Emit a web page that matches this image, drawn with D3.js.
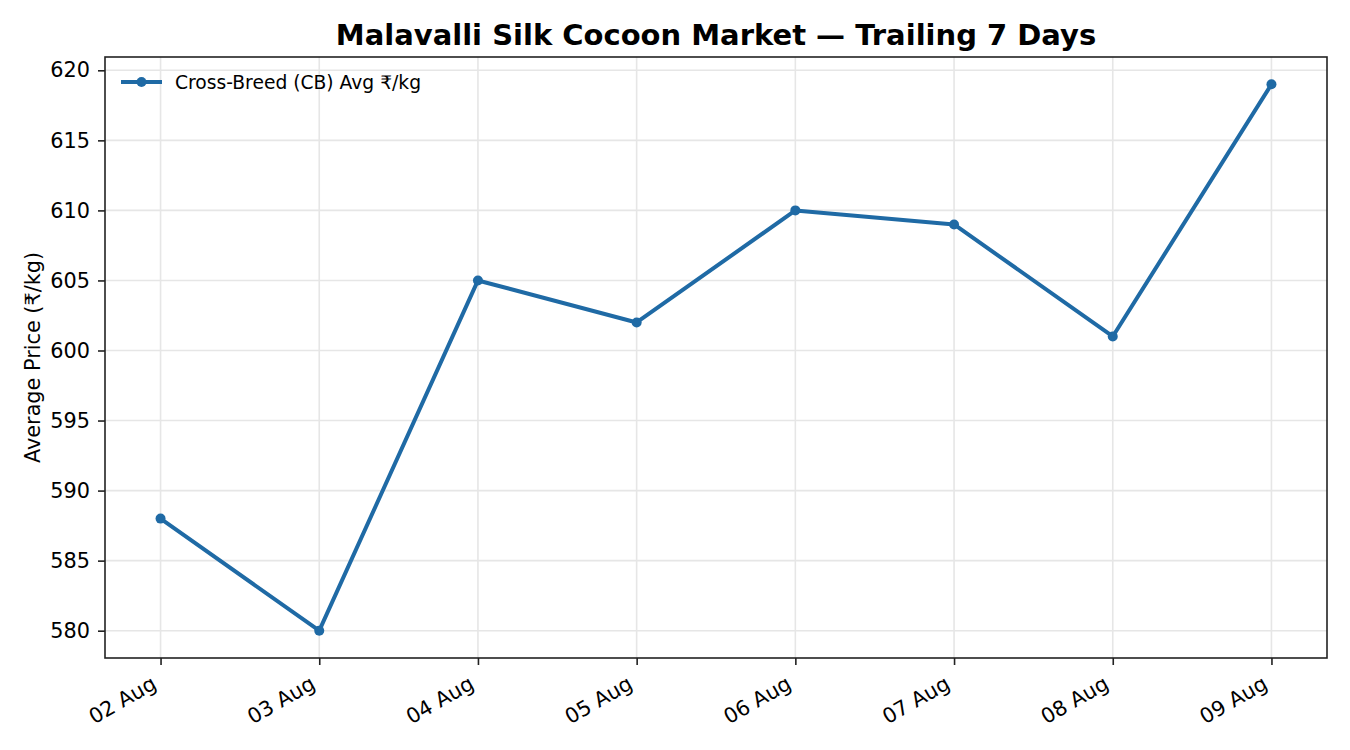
<!DOCTYPE html>
<html>
<head>
<meta charset="utf-8">
<script src="https://cdn.jsdelivr.net/npm/d3@7"></script>
<style>
  body { margin: 0; background: #fff; }
  text { font-family: "DejaVu Sans", sans-serif; }
</style>
</head>
<body>
<div class="chart"></div>
<script>
// market data
const days = ["02 Aug", "03 Aug", "04 Aug", "05 Aug", "06 Aug", "07 Aug", "08 Aug", "09 Aug"];
const cbPrice = [588, 580, 605, 602, 610, 609, 601, 619];
const yTicks = [580, 585, 590, 595, 600, 605, 610, 615, 620];
const seriesName = "Cross-Breed (CB) Avg \u20B9/kg";

const W = 1350, H = 750;
const margin = { top: 57, right: 23, bottom: 92, left: 105 };
const w = W - margin.left - margin.right,
    h = H - margin.top - margin.bottom;
const color = "#1f6aa5";
const tickFont = 20.8;

const svg = d3.select("div.chart")
    .append("svg")
    .attr("width", W)
    .attr("height", H);

const g = svg.append("g")
    .attr("transform", "translate(" + margin.left + "," + margin.top + ")");

// scales with matplotlib-like 5% padding
const n = days.length - 1;
const xScale = d3.scaleLinear()
    .domain([-0.05 * n, n + 0.05 * n])
    .range([0, w]);

const yMin = d3.min(cbPrice), yMax = d3.max(cbPrice);
const pad = (yMax - yMin) * 0.05;
const yScale = d3.scaleLinear()
    .domain([yMin - pad, yMax + pad])
    .range([h, 0]);

// grid
g.append("g")
    .selectAll("line")
    .data(yTicks)
    .enter()
    .append("line")
    .attr("x1", 0).attr("x2", w)
    .attr("y1", d => yScale(d)).attr("y2", d => yScale(d))
    .attr("stroke", "#e6e6e6").attr("stroke-width", 1.6);

g.append("g")
    .selectAll("line")
    .data(days)
    .enter()
    .append("line")
    .attr("x1", (d, i) => xScale(i)).attr("x2", (d, i) => xScale(i))
    .attr("y1", 0).attr("y2", h)
    .attr("stroke", "#e6e6e6").attr("stroke-width", 1.6);

// axes
const xAxis = d3.axisBottom(xScale)
    .tickValues(d3.range(days.length))
    .tickFormat(i => days[i])
    .tickSize(7);
const gx = g.append("g")
    .attr("transform", "translate(0," + h + ")")
    .call(xAxis);
gx.selectAll("text")
    .attr("font-size", tickFont)
    .attr("fill", "#000")
    .attr("text-anchor", "end")
    .attr("y", 0)
    .attr("dy", "0.76em")
    .attr("transform", "translate(-11,16) rotate(-30)");

const yAxis = d3.axisLeft(yScale)
    .tickValues(yTicks)
    .tickSize(7).tickPadding(8);
const gy = g.append("g").call(yAxis);
gy.selectAll("text").attr("font-size", tickFont).attr("fill", "#000");

[gx, gy].forEach(a => {
    a.select(".domain").remove();
    a.selectAll(".tick line").attr("stroke", "#222").attr("stroke-width", 1.6);
});

// frame
g.append("rect")
    .attr("x", 0).attr("y", 0)
    .attr("width", w).attr("height", h)
    .attr("fill", "none")
    .attr("stroke", "#222")
    .attr("stroke-width", 1.6);

// line + markers
const line = d3.line()
    .x((d, i) => xScale(i))
    .y(d => yScale(d));

g.append("path")
    .datum(cbPrice)
    .attr("d", line)
    .attr("fill", "none")
    .attr("stroke", color)
    .attr("stroke-width", 4)
    .attr("stroke-linejoin", "round");

g.selectAll("circle.pt")
    .data(cbPrice)
    .enter()
    .append("circle")
    .attr("class", "pt")
    .attr("cx", (d, i) => xScale(i))
    .attr("cy", d => yScale(d))
    .attr("r", 5)
    .attr("fill", color);

// legend
const lg = g.append("g").attr("transform", "translate(16,25)");
lg.append("line")
    .attr("x1", 0).attr("x2", 41)
    .attr("stroke", color).attr("stroke-width", 4);
lg.append("circle").attr("cx", 20.5).attr("r", 5).attr("fill", color);
lg.append("text")
    .attr("x", 54).attr("dy", "0.36em")
    .attr("font-size", 18.7)
    .text(seriesName);

// title and label
svg.append("text")
    .attr("x", margin.left + w / 2).attr("y", 45)
    .attr("text-anchor", "middle")
    .attr("font-size", 29)
    .attr("font-weight", "bold")
    .text("Malavalli Silk Cocoon Market \u2014 Trailing 7 Days");

svg.append("text")
    .attr("transform", "translate(33," + (margin.top + h / 2) + ") rotate(-90)")
    .attr("text-anchor", "middle")
    .attr("dy", "0.35em")
    .attr("font-size", 20.8)
    .text("Average Price (\u20B9/kg)");
</script>
</body>
</html>
